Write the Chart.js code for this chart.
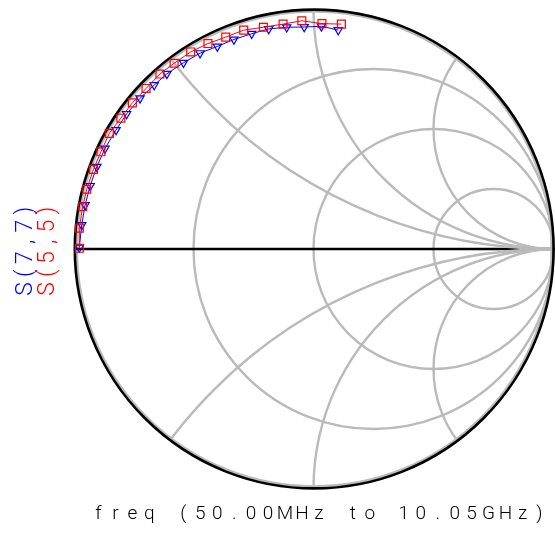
<!DOCTYPE html>
<html>
<head>
<meta charset="utf-8">
<script src="https://cdn.jsdelivr.net/npm/chart.js@4.4.1/dist/chart.umd.min.js"></script>
<style>
  html, body { margin: 0; padding: 0; background: #ffffff; overflow: hidden; }
  #wrap { width: 555px; height: 537px; overflow: hidden; }
  canvas { display: block; }
</style>
</head>
<body>
<div id="wrap"><canvas id="c" width="555" height="537" style="width:555px;height:537px"></canvas></div>
<script>
const s55Re = [-0.982, -0.982, -0.968, -0.951, -0.923, -0.892, -0.857, -0.809, -0.761, -0.704, -0.646, -0.587, -0.518, -0.446, -0.372, -0.297, -0.215, -0.133, -0.055, 0.029, 0.110];
const s55Im = [0.003, 0.087, 0.176, 0.249, 0.332, 0.405, 0.482, 0.545, 0.609, 0.669, 0.729, 0.774, 0.821, 0.856, 0.883, 0.912, 0.924, 0.937, 0.951, 0.939, 0.937];
const s77Re = [-0.982, -0.972, -0.958, -0.937, -0.909, -0.875, -0.829, -0.785, -0.729, -0.670, -0.617, -0.548, -0.479, -0.407, -0.338, -0.264, -0.193, -0.118, -0.045, 0.027, 0.097];
const s77Im = [0.006, 0.100, 0.183, 0.263, 0.343, 0.419, 0.496, 0.563, 0.628, 0.683, 0.730, 0.776, 0.816, 0.844, 0.873, 0.897, 0.917, 0.924, 0.925, 0.928, 0.912];

// Smith chart grid values
const resistanceCircles = [1/3, 1, 3];
const reactanceArcs = [0.5, 1, 2];

// Texts
const seriesLabels = ['S(5,5)', 'S(7,7)'];
const freqLabel = 'freq (50.00MHz to 10.05GHz)';

const toPts = (re, im) => re.map((v, i) => ({ x: v, y: im[i] }));

const smithGrid = {
  id: 'smithGrid',
  beforeDatasetsDraw(chart) {
    const ctx = chart.ctx;
    const xs = chart.scales.x, ys = chart.scales.y;
    const cx = xs.getPixelForValue(0), cy = ys.getPixelForValue(0);
    const R = xs.getPixelForValue(1) - cx;
    const gray = '#bababa';
    ctx.save();
    ctx.lineWidth = 2.4;
    ctx.strokeStyle = gray;
    // r = 0 circle (gray), drawn just inside the black rim
    ctx.beginPath();
    ctx.arc(cx - 0.8, cy, R - 2.6, 0, Math.PI * 2);
    ctx.stroke();
    // resistance circles
    resistanceCircles.forEach(r => {
      const c = r / (1 + r), rad = 1 / (1 + r);
      ctx.beginPath();
      ctx.arc(cx + c * R - 1.5, cy, rad * R, 0, Math.PI * 2);
      ctx.stroke();
    });
    // real axis (black)
    ctx.strokeStyle = '#000000';
    ctx.lineWidth = 2.6;
    ctx.beginPath();
    ctx.moveTo(xs.getPixelForValue(-1), cy);
    ctx.lineTo(xs.getPixelForValue(1), cy);
    ctx.stroke();
    // reactance arcs clipped to unit disk
    ctx.save();
    ctx.beginPath();
    ctx.arc(cx - 0.8, cy, R - 2, 0, Math.PI * 2);
    ctx.clip();
    ctx.strokeStyle = gray;
    ctx.lineWidth = 2.4;
    reactanceArcs.forEach(x => {
      [1, -1].forEach(s => {
        ctx.beginPath();
        ctx.arc(cx + R - 1.5, cy - s * R / x, R / x, 0, Math.PI * 2);
        ctx.stroke();
      });
    });
    ctx.restore();
    // outer black circle
    ctx.strokeStyle = '#000000';
    ctx.lineWidth = 2.6;
    ctx.beginPath();
    ctx.arc(cx - 0.8, cy, R - 0.6, 0, Math.PI * 2);
    ctx.stroke();
    ctx.restore();
  },
  afterDraw(chart) {
    const ctx = chart.ctx;
    ctx.save();
    // bottom frequency label, fixed pitch
    ctx.fillStyle = '#000000';
    ctx.font = '300 19px Roboto';
    ctx.textAlign = 'center';
    ctx.textBaseline = 'alphabetic';
    const pitch = 16.96;
    for (let i = 0; i < freqLabel.length; i++) {
      ctx.fillText(freqLabel[i], 98.5 + i * pitch, 518.5);
    }
    // rotated series labels
    const drawVert = (text, color, bx, by) => {
      ctx.save();
      ctx.translate(bx, by);
      ctx.rotate(-Math.PI / 2);
      ctx.fillStyle = color;
      ctx.font = '300 23px Roboto';
      ctx.textAlign = 'center';
      for (let i = 0; i < text.length; i++) {
        ctx.fillText(text[i], i * 15.7, 0);
      }
      ctx.restore();
    };
    drawVert(seriesLabels[1], '#0000ff', 32, 289);
    drawVert(seriesLabels[0], '#ff0000', 54, 289);
    ctx.restore();
  }
};

new Chart(document.getElementById('c'), {
  type: 'scatter',
  data: {
    datasets: [
      {
        label: seriesLabels[0],
        data: toPts(s55Re, s55Im),
        showLine: true,
        borderColor: '#ff0000',
        backgroundColor: 'rgba(0,0,0,0)',
        borderWidth: 1,
        pointStyle: 'rect',
        pointRadius: 5.6,
        pointBorderWidth: 1.2,
        pointBorderColor: '#ff0000',
        pointBackgroundColor: 'rgba(0,0,0,0)',
        tension: 0
      },
      {
        label: seriesLabels[1],
        data: toPts(s77Re, s77Im),
        showLine: true,
        borderColor: '#0000ff',
        backgroundColor: 'rgba(0,0,0,0)',
        borderWidth: 1,
        pointStyle: 'triangle',
        rotation: 180,
        pointRadius: 4.8,
        pointBorderWidth: 1.2,
        pointBorderColor: '#0000ff',
        pointBackgroundColor: 'rgba(0,0,0,0)',
        tension: 0
      }
    ]
  },
  options: {
    responsive: false,
    devicePixelRatio: 1,
    animation: false,
    events: [],
    layout: { autoPadding: false, padding: { left: 75, top: 9, right: 0, bottom: 48 } },
    scales: {
      x: { type: 'linear', min: -1, max: 1, display: false },
      y: { type: 'linear', min: -1, max: 1, display: false }
    },
    plugins: { legend: { display: false }, tooltip: { enabled: false } }
  },
  plugins: [smithGrid]
});
</script>
</body>
</html>
